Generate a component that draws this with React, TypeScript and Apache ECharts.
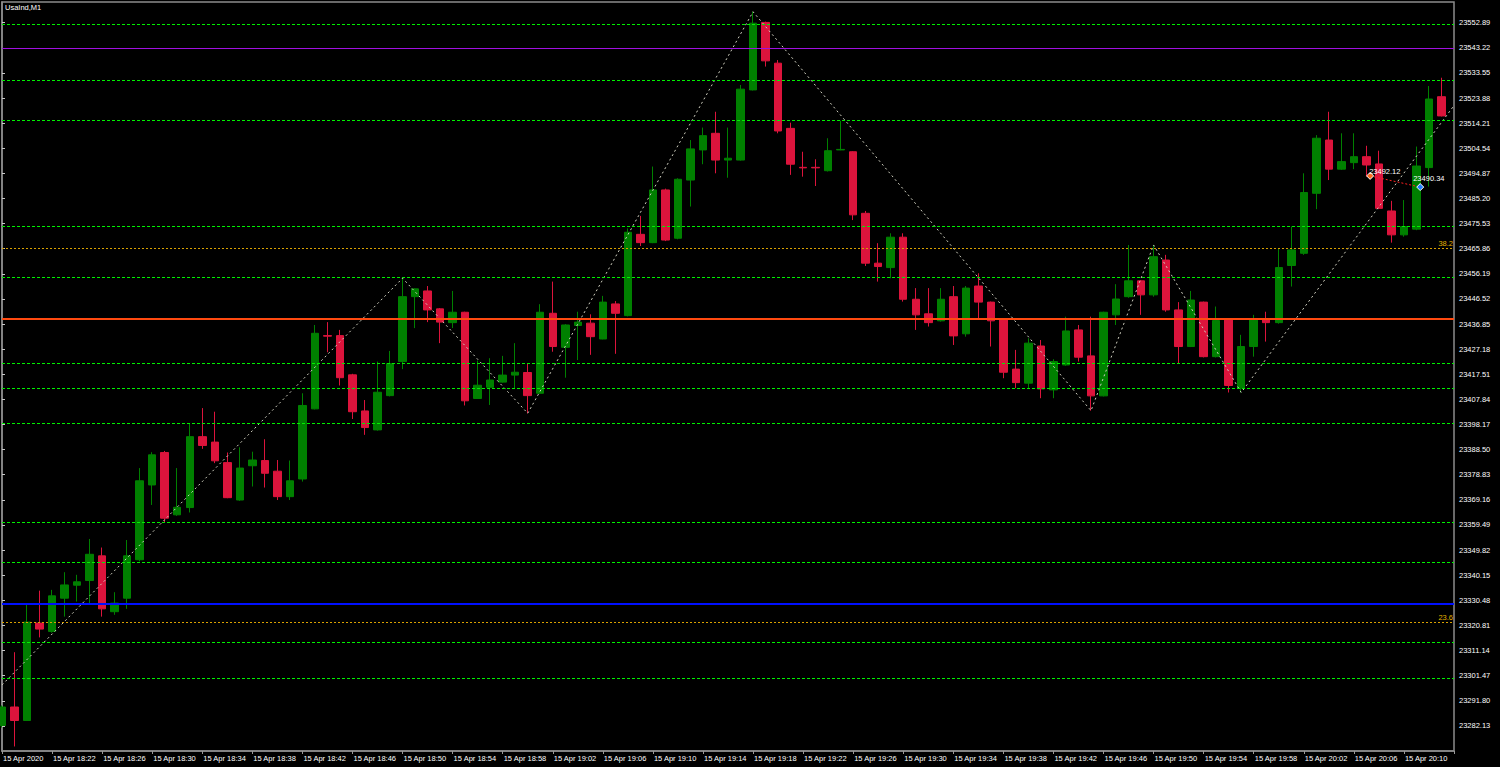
import React, { useEffect, useRef } from "react";
import * as echarts from "echarts";

// ---------- data ----------
const TITLE = "UsaInd,M1";
const DATE_LABEL = "15 Apr";
const FIRST_LABEL = "15 Apr 2020";
const START_MINUTES = 18 * 60 + 18; // first bar 18:18
const AXIS_SLOTS = 117; // bar slots 0..116 across the plot

const OPEN = [
  23282.3, 23289.4, 23284.2, 23321.7, 23318.5, 23331.3, 23336.3, 23338.1, 23347.6, 23326.1,
  23331.3, 23346.1, 23374.9, 23387.4, 23363.4, 23366.2, 23393.5, 23391.4, 23383.5, 23369.1,
  23382.3, 23384.3, 23380.2, 23370.4, 23377.2, 23404.2, 23432.4, 23432.4, 23417.3, 23403.4,
  23396.1, 23409.3, 23422.4, 23447.4, 23449.6, 23442.7, 23437.4, 23441.4, 23408.2, 23412.5,
  23414.5, 23417.2, 23418.2, 23410.2, 23441.0, 23427.9, 23436.3, 23437.2, 23431.1, 23444.6,
  23440.1, 23471.4, 23468.2, 23488.5, 23469.9, 23492.3, 23503.9, 23510.3, 23500.0, 23500.0,
  23527.0, 23553.0, 23537.3, 23512.2, 23497.2, 23497.2, 23495.9, 23503.9, 23503.2, 23479.5,
  23460.3, 23458.6, 23470.3, 23446.4, 23440.8, 23438.1, 23447.4, 23433.1, 23451.5, 23445.3,
  23438.8, 23419.5, 23414.1, 23428.4, 23411.5, 23421.1, 23434.6, 23424.6, 23409.2, 23440.4,
  23447.4, 23453.5, 23448.1, 23461.5, 23442.3, 23428.2, 23445.3, 23424.3, 23438.4, 23412.2,
  23428.2, 23438.7, 23437.4, 23459.4, 23464.1, 23487.2, 23507.7, 23496.5, 23499.0, 23501.3,
  23498.5, 23480.4, 23471.2, 23473.4, 23497.1, 23524.4,
];
const CLOSE = [
  23289.4, 23284.2, 23322.1, 23319.4, 23332.2, 23336.4, 23337.6, 23348.2, 23327.2, 23329.4,
  23347.6, 23376.5, 23386.5, 23362.1, 23366.3, 23393.5, 23390.1, 23384.2, 23370.0, 23381.4,
  23384.5, 23379.4, 23370.4, 23376.5, 23405.5, 23433.3, 23432.2, 23416.2, 23403.1, 23397.0,
  23410.6, 23421.6, 23447.4, 23450.4, 23442.3, 23437.6, 23441.4, 23407.3, 23413.3, 23415.3,
  23417.2, 23418.3, 23409.3, 23441.4, 23428.2, 23436.5, 23437.6, 23432.0, 23445.3, 23441.0,
  23472.2, 23468.2, 23488.5, 23469.2, 23492.6, 23504.3, 23509.4, 23500.0, 23500.7, 23527.3,
  23552.7, 23538.2, 23511.2, 23498.4, 23497.0, 23497.0, 23503.6, 23504.1, 23478.9, 23460.3,
  23459.0, 23470.3, 23446.4, 23440.4, 23437.4, 23446.4, 23432.3, 23450.7, 23445.3, 23438.1,
  23418.3, 23414.3, 23429.5, 23411.9, 23422.4, 23434.2, 23424.1, 23409.2, 23441.4, 23446.5,
  23453.5, 23448.1, 23462.8, 23442.3, 23428.2, 23446.1, 23424.3, 23438.2, 23413.2, 23428.2,
  23438.4, 23437.4, 23458.6, 23465.4, 23487.5, 23508.4, 23496.5, 23499.4, 23501.3, 23498.1,
  23481.4, 23471.2, 23474.4, 23497.7, 23523.5, 23517.0,
];
const HIGH = [
  23290.0, 23310.5, 23329.4, 23334.2, 23334.5, 23341.3, 23340.3, 23354.1, 23350.8, 23333.6,
  23353.7, 23381.4, 23387.5, 23388.0, 23381.4, 23398.7, 23404.5, 23403.1, 23387.4, 23389.4,
  23387.7, 23392.5, 23384.5, 23384.3, 23410.2, 23436.5, 23437.6, 23434.6, 23417.7, 23407.6,
  23422.4, 23426.5, 23454.5, 23450.6, 23451.5, 23443.0, 23449.6, 23441.6, 23422.8, 23423.7,
  23424.6, 23429.5, 23421.5, 23444.5, 23453.2, 23436.8, 23441.6, 23440.6, 23447.7, 23445.7,
  23473.7, 23478.5, 23497.5, 23489.0, 23493.0, 23507.7, 23512.5, 23518.6, 23512.5, 23528.9,
  23557.1, 23553.3, 23538.5, 23514.4, 23503.2, 23500.3, 23508.4, 23515.1, 23503.4, 23480.4,
  23468.0, 23471.8, 23471.8, 23450.7, 23450.7, 23450.7, 23451.5, 23451.5, 23456.4, 23445.5,
  23439.0, 23426.9, 23431.4, 23430.7, 23423.3, 23439.7, 23436.5, 23439.7, 23441.6, 23452.2,
  23467.3, 23453.8, 23467.3, 23463.5, 23445.3, 23449.6, 23445.5, 23443.6, 23438.6, 23432.7,
  23440.4, 23441.6, 23466.0, 23474.4, 23494.9, 23509.6, 23518.6, 23510.3, 23510.3, 23505.5,
  23503.6, 23484.3, 23484.6, 23505.2, 23528.5, 23531.7,
];
const LOW = [
  23281.5, 23274.2, 23284.0, 23316.2, 23318.0, 23324.2, 23330.0, 23329.4, 23324.2, 23324.9,
  23327.2, 23345.5, 23367.2, 23360.4, 23363.0, 23364.3, 23388.8, 23383.3, 23369.8, 23368.8,
  23374.3, 23373.9, 23369.1, 23369.1, 23376.2, 23404.0, 23426.0, 23413.2, 23400.3, 23394.2,
  23395.8, 23409.0, 23419.5, 23435.3, 23437.6, 23429.5, 23435.3, 23405.5, 23408.0, 23405.7,
  23414.3, 23412.2, 23402.5, 23410.0, 23426.2, 23416.2, 23423.0, 23425.0, 23431.0, 23425.4,
  23439.8, 23466.9, 23468.0, 23468.8, 23469.5, 23482.1, 23498.4, 23494.9, 23493.2, 23499.8,
  23526.8, 23536.0, 23510.3, 23494.3, 23493.6, 23490.0, 23495.6, 23503.8, 23476.9, 23459.2,
  23453.2, 23454.5, 23445.5, 23434.6, 23435.9, 23437.8, 23428.8, 23432.0, 23439.1, 23428.2,
  23416.0, 23412.2, 23412.2, 23408.3, 23408.3, 23420.8, 23422.4, 23403.5, 23409.0, 23436.5,
  23447.0, 23440.4, 23447.4, 23441.6, 23421.8, 23428.0, 23424.0, 23424.0, 23410.5, 23410.5,
  23424.3, 23430.1, 23437.0, 23451.3, 23463.5, 23481.1, 23492.3, 23496.2, 23496.5, 23493.6,
  23481.1, 23468.2, 23470.5, 23473.0, 23489.8, 23516.8,
];

// ZigZag pivots: [bar index, price]
const ZIGZAG_X = [0, 32, 42, 60, 87, 92, 99, 116];
const ZIGZAG_Y = [23297.9, 23454.5, 23402.5, 23557.1, 23403.5, 23467.3, 23410.5, 23521.0];

// horizontal levels
const GREEN_LEVELS = [
  23552.3, 23530.5, 23515.1, 23474.5, 23454.9, 23421.8, 23412.2, 23398.7, 23360.5, 23345.2,
  23314.4, 23300.5,
];
const PURPLE_LEVEL = 23542.8;
const ORANGE_LEVEL = 23438.8;
const BLUE_LEVEL = 23329.2;
const FIB_LEVELS = [23466.0, 23321.9];
const FIB_LABELS = ["38.2", "23.6"];

// trade marks (open -> close)
const TRADE_X = [109.3, 113.3];
const TRADE_Y = [23493.9, 23489.6];
const TRADE_TEXT = ["23492.12", "23490.34"];

// price axis
const Y_MIN = 23272.46;
const Y_MAX = 23560.86;
const Y_STEP = 9.67;
const Y_FIRST_TICK = 23282.13;

const FONT = "Liberation Sans";
const FS = 7.5;

function slotLabel(i: number): string {
  if (i === 0) return FIRST_LABEL;
  const m = START_MINUTES + i;
  const hh = String(Math.floor(m / 60)).padStart(2, "0");
  const mm = String(m % 60).padStart(2, "0");
  return `${DATE_LABEL} ${hh}:${mm}`;
}

export default function App() {
  const ref = useRef<HTMLDivElement>(null);

  useEffect(() => {
    if (!ref.current) return;
    const chart = echarts.init(ref.current, null, { renderer: "svg" });

    const categories = Array.from({ length: AXIS_SLOTS }, (_, i) => slotLabel(i));
    const candles = OPEN.map((o, i) => [o, CLOSE[i], LOW[i], HIGH[i]]);
    const zig = ZIGZAG_X.map((x, i) => [x, ZIGZAG_Y[i]]);

    const option: any = {
      animation: false,
      backgroundColor: "#000000",
      grid: {
        left: 2,
        top: 2,
        right: 46,
        bottom: 16,
        show: true,
        borderColor: "#8c8c8c",
        borderWidth: 1.5,
        backgroundColor: "transparent",
        containLabel: false,
        outerBoundsMode: "none",
      },
      xAxis: [
        {
          type: "category",
          data: categories,
          boundaryGap: false,
          axisLine: { show: true, lineStyle: { color: "#8c8c8c", width: 1.5 } },
          axisTick: { show: true, interval: 3, length: 3, lineStyle: { color: "#9a9a9a" } },
          axisLabel: {
            interval: 3,
            align: "left",
            margin: 3,
            color: "#ffffff",
            fontFamily: FONT,
            fontSize: FS,
            padding: [0, 0, 0, 1],
            formatter: (v: string, idx: number) => (idx > 112 ? "" : v),
          },
          splitLine: { show: false },
        },
        { type: "value", min: 0, max: AXIS_SLOTS - 1, show: false },
      ],
      yAxis: {
        type: "value",
        position: "right",
        min: Y_MIN,
        max: Y_MAX,
        interval: Y_STEP,
        scale: true,
        axisLine: { show: true, lineStyle: { color: "#8c8c8c", width: 1.5 } },
        axisTick: { show: true, length: 3, lineStyle: { color: "#c8c8c8" } },
        axisLabel: {
          showMaxLabel: false,
          showMinLabel: false,
          margin: 5,
          color: "#ffffff",
          fontFamily: FONT,
          fontSize: FS,
          formatter: (v: number) => (v < Y_FIRST_TICK - 0.01 ? "" : v.toFixed(2)),
        },
        splitLine: { show: false },
      },
      graphic: [
        {
          type: "text",
          left: 5,
          top: 3,
          style: { text: TITLE, fill: "#ffffff", font: `${FS}px ${FONT}` },
          z: 100,
        },
      ],
      series: [
        {
          type: "candlestick",
          xAxisIndex: 0,
          data: candles,
          barWidth: 8,
          clip: true,
          z: 2,
          itemStyle: {
            color: "#008000",
            color0: "#dc143c",
            borderColor: "#008000",
            borderColor0: "#dc143c",
            borderWidth: 1,
          },
        },
        {
          id: "levels",
          type: "line",
          xAxisIndex: 1,
          data: [],
          z: 3,
        },
        {
          type: "line",
          xAxisIndex: 1,
          data: zig,
          symbol: "none",
          clip: true,
          z: 4,
          lineStyle: { color: "#d0d0c0", width: 1, type: [2, 3] },
        },
        {
          type: "line",
          xAxisIndex: 1,
          data: TRADE_X.map((x, i) => ({
            value: [x, TRADE_Y[i]],
            itemStyle:
              i === 0
                ? { color: "#ff6a1a", borderColor: "#ffffff", borderWidth: 1 }
                : { color: "#1e7cff", borderColor: "#ffffff", borderWidth: 1 },
            label:
              i === 0
                ? { offset: [-6, -4] }
                : { offset: [-12, -9] },
          })),
          symbol: "diamond",
          symbolSize: 7,
          z: 5,
          lineStyle: { color: "#ff2020", width: 1, type: [2, 2] },
          label: {
            show: true,
            position: "right",
            distance: 1,
            color: "#ffffff",
            fontFamily: FONT,
            fontSize: FS,
            formatter: (p: any) => TRADE_TEXT[p.dataIndex],
          },
        },
      ],
    };

    chart.setOption(option);

    // snap horizontal levels to the pixel grid (crisp 1px lines) via the axis scale
    const snap = (v: number, width: number) => {
      const y = chart.convertToPixel({ yAxisIndex: 0 }, v) as number;
      const py = width % 2 === 1 ? Math.floor(y) + 0.5 : Math.round(y);
      return chart.convertFromPixel({ yAxisIndex: 0 }, py) as number;
    };
    const hl = (v: number, color: string, type: any, width: number) => ({
      yAxis: snap(v, width),
      lineStyle: { color, type, width },
      label: { show: false },
    });
    const markData: any[] = [
      ...GREEN_LEVELS.map((v) => hl(v, "#00f000", [3, 2], 1)),
      hl(PURPLE_LEVEL, "#a010e0", "solid", 1),
      hl(ORANGE_LEVEL, "#ff4a10", "solid", 2),
      hl(BLUE_LEVEL, "#0010ff", "solid", 2),
      ...FIB_LEVELS.map((v, i) => ({
        yAxis: snap(v, 1),
        lineStyle: { color: "#d8a000", type: [2, 2], width: 1 },
        label: {
          show: true,
          position: "insideEndTop",
          formatter: FIB_LABELS[i],
          color: "#e0b000",
          fontFamily: FONT,
          fontSize: FS,
          distance: [1, 1],
        },
      })),
    ];
    chart.setOption({
      series: [
        {
          id: "levels",
          markLine: {
            silent: true,
            symbol: ["none", "none"],
            animation: false,
            data: markData,
          },
        },
      ],
    });

    return () => chart.dispose();
  }, []);

  return (
    <div
      ref={ref}
      style={{ position: "fixed", left: 0, top: 0, width: 1500, height: 767, background: "#000" }}
    />
  );
}
